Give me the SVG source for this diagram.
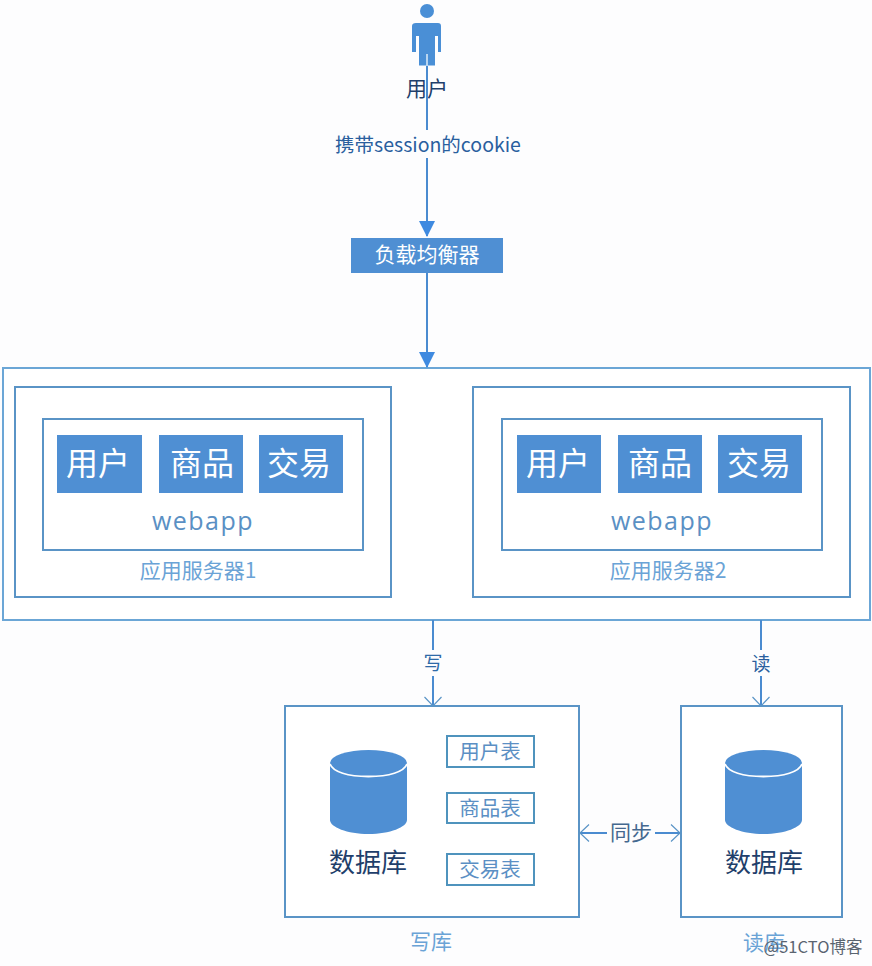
<svg xmlns="http://www.w3.org/2000/svg" width="872" height="966" viewBox="0 0 872 966">
  <style>
    text { font-family: "Noto Sans CJK SC", "Liberation Sans", sans-serif; text-anchor: middle; }
    .frame { fill: #fff; stroke: #6ba6d6; stroke-width: 2; }
    .inner { fill: #fff; stroke: #5a94c6; stroke-width: 2; }
    .solid { fill: #4a8fd6; }
    .block { fill: #4f8fd3; }
    .wire { fill: none; stroke: #4a8bd0; stroke-width: 2; }
    .ink { fill: #1f3f6b; font-size: 26px; }
    .pale { fill: #6aa3d6; font-size: 21px; }
    .white { fill: #fff; font-size: 32px; }
    .app { fill: #5a90c4; font-size: 25px; font-family: "Open Sans", "Liberation Sans", sans-serif; letter-spacing: 1.5px; }
    .tbl { fill: #5b8fc4; font-size: 20.500px; }
    .tblbox { fill: #fff; stroke: #4f93bd; stroke-width: 2; }
    .mark { fill: #5a6470; font-size: 16.500px; }
  </style>
  <defs>
    <marker id="head" markerWidth="16" markerHeight="16" refX="15" refY="8" orient="auto" markerUnits="userSpaceOnUse">
      <path d="M0 0L16 8L0 16Z" fill="#3f8ae0"/>
    </marker>
    <marker id="vee" markerWidth="11" markerHeight="18" refX="10" refY="9" orient="auto-start-reverse" markerUnits="userSpaceOnUse">
      <path d="M1 .5L10 9L1 17.500" fill="none" stroke="#5a94c6" stroke-width="1.200"/>
    </marker>
    <g id="drum">
      <path class="block" d="M0 14V70C0 77 17 84 38.500 84S77 77 77 70V14Z"/>
      <ellipse class="block" cx="38.500" cy="13" rx="38.500" ry="13"/>
      <path d="M0 14C3 22 18 26.500 38.500 26.500S74 22 77 14" fill="none" stroke="#fff" stroke-width="1.800"/>
    </g>
  </defs>
  <rect width="872" height="966" fill="#fdfdfe"/>

  <g id="server-cluster"><rect class="frame" x="3" y="368" width="867" height="252"/></g>

  <g id="user">
    <circle class="solid" cx="427" cy="11" r="7"/>
    <path class="solid" d="M416 23H438Q441 23 441 26V52H438V36H435V65.500H419V36H416V52H412V26Q412 23 416 23Z"/>
    <text x="427" y="96" style="fill:#1f3f6b;font-size:21px">用户</text>
  </g>

  <g id="load-balancer">
    <rect class="block" x="351" y="238" width="152" height="35"/>
    <text x="427" y="262" style="fill:#fff;font-size:21px">负载均衡器</text>
  </g>

  <g id="server-1">
    <rect class="inner" x="15" y="387" width="376" height="210"/>
    <rect class="inner" x="43" y="419" width="320" height="131"/>
    <rect class="block" x="57" y="435" width="85" height="58"/>
    <rect class="block" x="159" y="435" width="84" height="58"/>
    <rect class="block" x="259" y="435" width="84" height="58"/>
    <text class="white" x="98" y="475">用户</text>
    <text class="white" x="202" y="475">商品</text>
    <text class="white" x="299" y="475">交易</text>
    <text class="app" x="203" y="530">webapp</text>
    <text class="pale" x="198" y="578">应用服务器1</text>
  </g>

  <g id="server-2">
    <rect class="inner" x="473" y="387" width="377" height="210"/>
    <rect class="inner" x="502" y="419" width="320" height="131"/>
    <rect class="block" x="517" y="435" width="84" height="58"/>
    <rect class="block" x="618" y="435" width="84" height="58"/>
    <rect class="block" x="718" y="435" width="84" height="58"/>
    <text class="white" x="558" y="475">用户</text>
    <text class="white" x="660" y="475">商品</text>
    <text class="white" x="759" y="475">交易</text>
    <text class="app" x="662" y="530">webapp</text>
    <text class="pale" x="668" y="578">应用服务器2</text>
  </g>

  <g id="write-db">
    <rect class="inner" x="285" y="706" width="294" height="211"/>
    <use href="#drum" x="330" y="750"/>
    <text class="ink" x="368" y="872">数据库</text>
    <rect class="tblbox" x="447" y="736" width="87" height="31"/>
    <rect class="tblbox" x="447" y="793" width="87" height="30"/>
    <rect class="tblbox" x="447" y="854" width="87" height="31"/>
    <text class="tbl" x="490" y="759">用户表</text>
    <text class="tbl" x="490" y="816">商品表</text>
    <text class="tbl" x="490" y="877">交易表</text>
    <text class="pale" x="431" y="949">写库</text>
  </g>

  <g id="read-db">
    <rect class="inner" x="681" y="706" width="161" height="211"/>
    <use href="#drum" x="725" y="750"/>
    <text class="ink" x="764" y="872">数据库</text>
    <text class="pale" x="764" y="950">读库</text>
  </g>

  <g id="connectors">
    <path d="M427 54V66" fill="none" stroke="#b9d5f0" stroke-width="2"/>
    <path class="wire" marker-end="url(#head)" d="M427 66V236"/>
    <path class="wire" marker-end="url(#head)" d="M427 273V367"/>
    <path class="wire" marker-end="url(#vee)" d="M433 620V706"/>
    <path class="wire" marker-end="url(#vee)" d="M761 620V706"/>
    <path class="wire" marker-start="url(#vee)" marker-end="url(#vee)" d="M580 833H680"/>
  </g>

  <g id="connector-labels">
    <rect x="335" y="130" width="186" height="28" fill="#fdfdfe"/>
    <text x="428" y="152" style="fill:#2a5f9e;font-size:19.500px">携带session的cookie</text>
    <rect x="420" y="650" width="26" height="26" fill="#fdfdfe"/>
    <text x="433" y="670" style="fill:#2f6aa8;font-size:19px">写</text>
    <rect x="748" y="650" width="26" height="26" fill="#fdfdfe"/>
    <text x="761" y="671" style="fill:#2a5f9e;font-size:19px">读</text>
    <rect x="607" y="820" width="48" height="26" fill="#fdfdfe"/>
    <text x="631" y="840" style="fill:#44688f;font-size:21px">同步</text>
  </g>

  <g id="credit"><text class="mark" x="813" y="953">@51CTO博客</text></g>
</svg>
